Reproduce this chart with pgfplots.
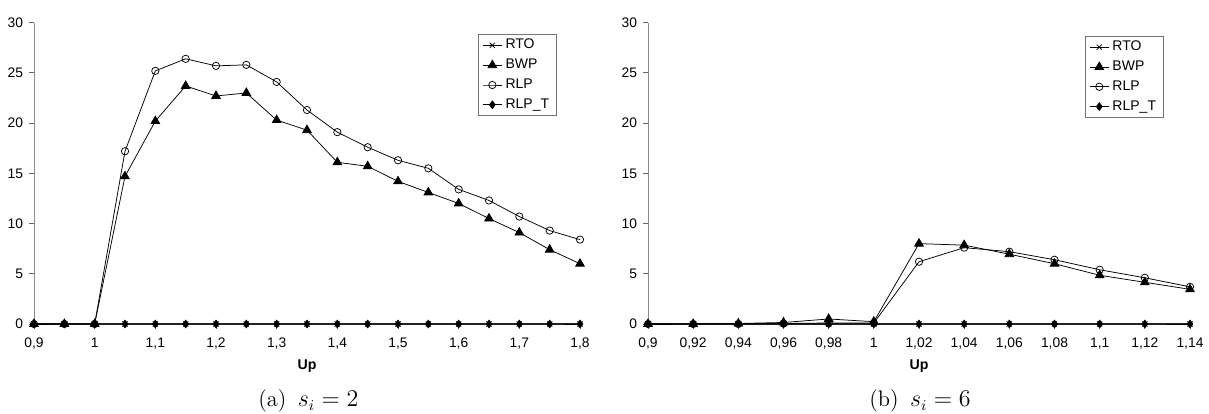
\documentclass[border=0pt]{standalone}
\usepackage{pgfplots}
\pgfplotsset{compat=1.18}
\usepackage{fontspec}
\newfontfamily\arial{Liberation Sans}

% left panel, s_i = 2
\pgfplotstableread{
x     RTO  BWP   RLP   RLPT
0.90  0    0     0     0
0.95  0    0     0     0
1.00  0    0     0     0
1.05  0    14.7  17.2  0
1.10  0    20.2  25.2  0
1.15  0    23.7  26.4  0
1.20  0    22.7  25.7  0
1.25  0    23.0  25.8  0
1.30  0    20.3  24.1  0
1.35  0    19.3  21.3  0
1.40  0    16.1  19.1  0
1.45  0    15.7  17.6  0
1.50  0    14.2  16.3  0
1.55  0    13.1  15.5  0
1.60  0    12.0  13.4  0
1.65  0    10.5  12.3  0
1.70  0    9.1   10.7  0
1.75  0    7.4   9.3   0
1.80  0    6.0   8.4   0
}\tblA

% right panel, s_i = 6
\pgfplotstableread{
x     RTO  BWP   RLP   RLPT
0.90  0    0     0     0
0.92  0    0     0     0
0.94  0    0.05  0     0
0.96  0    0.15  0.05  0
0.98  0    0.5   0.1   0
1.00  0    0.23  0.1   0
1.02  0    8.0   6.2   0
1.04  0    7.85  7.6   0
1.06  0    6.95  7.2   0
1.08  0    6.0   6.4   0
1.10  0    4.85  5.4   0
1.12  0    4.15  4.6   0
1.14  0    3.45  3.7   0
}\tblB

\pgfplotsset{
  panel/.style={
    scale only axis,
    anchor=south west,
    height=180.8pt,
    ymin=0, ymax=30,
    ytick={0,5,...,30},
    axis x line=bottom,
    axis y line=left,
    axis line style={-},
    x axis line style={black!85, line width=0.6pt},
    y axis line style={black!45, line width=0.6pt},
    tick align=outside,
    major tick length=3pt,
    tick style={black!60, line width=0.5pt},
    clip=false,
    tick label style={font=\arial\fontsize{8.3}{9}\selectfont},
    /pgf/number format/use comma,
    /pgf/number format/precision=2,
    /pgf/number format/assume math mode=true,
    xticklabel style={anchor=base, yshift=-11.4pt},
    xlabel={\arial\bfseries\fontsize{8.5}{9}\selectfont Up},
    xlabel style={at={(axis description cs:0.5,0)}, anchor=center, yshift=-25.2pt},
    every axis plot/.append style={black, line width=0.45pt},
    legend cell align=left,
    legend style={font=\arial\fontsize{8.4}{10}\selectfont, draw=black!55, line width=0.5pt,
      inner xsep=2.5pt, inner ysep=0.8pt, row sep=0.6pt, anchor=north west},
    legend image code/.code={
      \draw[mark repeat=2, mark phase=2] plot coordinates {(0cm,0cm) (0.2cm,0cm) (0.4cm,0cm)};},
  },
  rto/.style={mark=x, mark size=2.2pt},
  bwp/.style={mark=triangle*, mark size=3pt, mark options={fill=black}},
  rlp/.style={mark=o, mark size=2.2pt, mark options={fill=white}},
  rlpt/.style={mark=diamond*, mark size=2.3pt, mark options={fill=black}},
}

\begin{document}
\begin{tikzpicture}
\path[use as bounding box] (0,0) rectangle (725.4pt,248.4pt);

\begin{axis}[panel,
  at={(20.4pt,54pt)}, width=327.6pt,
  xmin=0.9, xmax=1.8,
  xtick={0.9,1,1.1,1.2,1.3,1.4,1.5,1.6,1.7,1.8},
  legend style={at={(axis description cs:0.813,0.962)}}]
  \addplot[rto]  table[x=x, y=RTO]  {\tblA};
  \addplot[bwp]  table[x=x, y=BWP]  {\tblA};
  \addplot[rlp]  table[x=x, y=RLP]  {\tblA};
  \addplot[rlpt] table[x=x, y=RLPT] {\tblA};
  \legend{RTO, BWP, RLP, RLP\_T}
\end{axis}

\begin{axis}[panel,
  at={(388.8pt,54pt)}, width=325.2pt,
  xmin=0.9, xmax=1.14,
  xtick={0.9,0.92,0.94,0.96,0.98,1,1.02,1.04,1.06,1.08,1.1,1.12,1.14},
  legend style={at={(axis description cs:0.806,0.956)}}]
  \addplot[rto]  table[x=x, y=RTO]  {\tblB};
  \addplot[bwp]  table[x=x, y=BWP]  {\tblB};
  \addplot[rlp]  table[x=x, y=RLP]  {\tblB};
  \addplot[rlpt] table[x=x, y=RLPT] {\tblB};
  \legend{RTO, BWP, RLP, RLP\_T}
\end{axis}

\node[font=\fontsize{13.5}{15}\selectfont, anchor=base] at (185pt,4.2pt) {(a)\enspace$s_i = 2$};
\node[font=\fontsize{13.5}{15}\selectfont, anchor=base] at (552pt,4.2pt) {(b)\enspace$s_i = 6$};
\end{tikzpicture}
\end{document}
